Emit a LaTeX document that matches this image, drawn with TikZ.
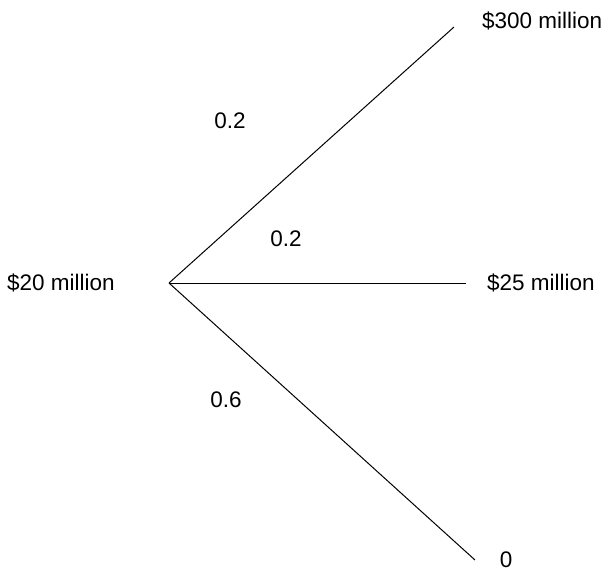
\documentclass[tikz,border=0pt]{standalone}
\usepackage{fontspec}
\setmainfont{Liberation Sans}
\begin{document}
\begin{tikzpicture}[x=1pt,y=-1pt,
  lbl/.style={inner sep=0pt,font=\fontsize{22.5}{26}\selectfont},
  branch/.style={draw=black,line width=1pt}]
\useasboundingbox (0,0) rectangle (612,571);
\coordinate (root) at (169,283);
\coordinate (top) at (454,27);
\coordinate (mid) at (466,283);
\coordinate (bot) at (475,560);
\draw[branch] (root) -- (top);
\draw[branch] (root) -- (mid);
\draw[branch] (root) -- (bot);
\node[lbl,anchor=west] (l20) at (7,283) {\$20 million};
\node[lbl,anchor=west] (l300) at (482,21) {\$300 million};
\node[lbl,anchor=west] (l25) at (487,283) {\$25 million};
\node[lbl] (l0) at (506,560) {0};
\node[lbl] (p1) at (230,121) {0.2};
\node[lbl] (p2) at (286,239) {0.2};
\node[lbl] (p3) at (226,400) {0.6};
\end{tikzpicture}
\end{document}
